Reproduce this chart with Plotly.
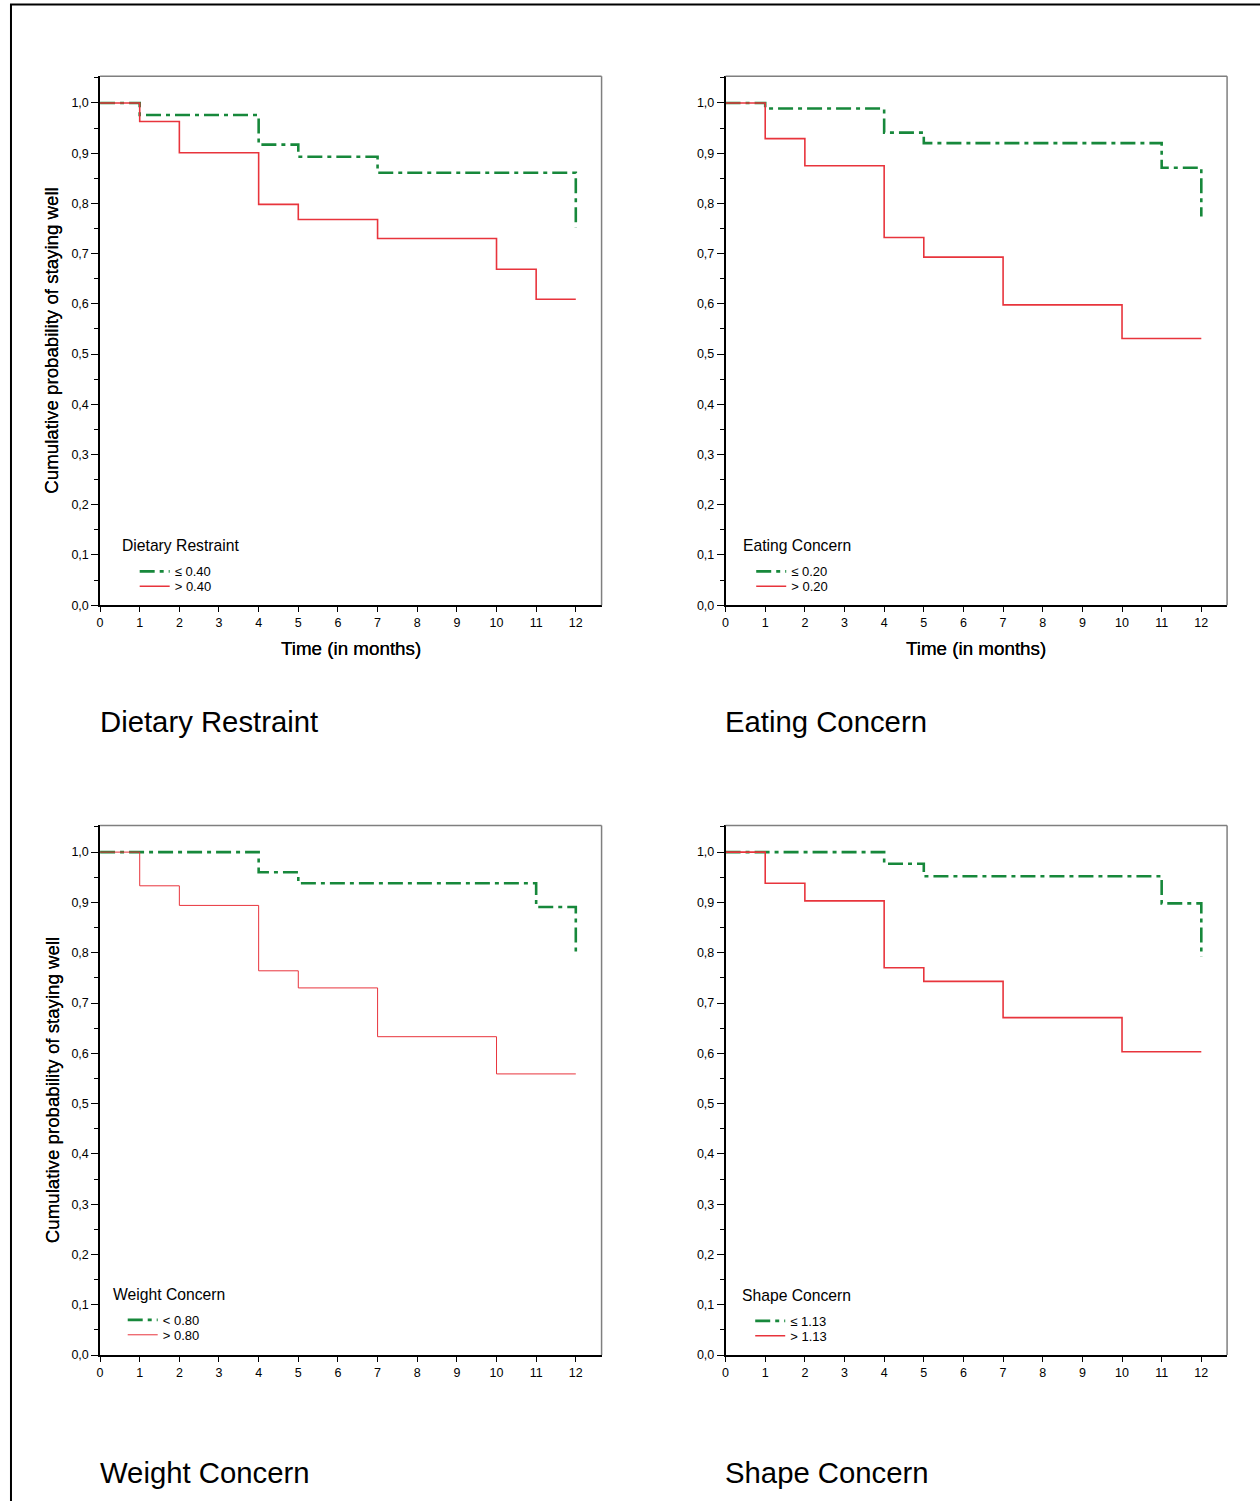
import plotly.graph_objects as go

# ---------------- data ----------------
dr_low_t = [0, 1, 4, 5, 7, 12]
dr_low_s = [1.0, 0.976, 0.917, 0.893, 0.861, 0.752]
dr_high_t = [0, 1, 2, 4, 5, 7, 10, 11, 12]
dr_high_s = [1.0, 0.963, 0.901, 0.798, 0.768, 0.730, 0.669, 0.609, 0.609]

ec_low_t = [0, 1, 4, 5, 11, 12]
ec_low_s = [1.0, 0.989, 0.941, 0.920, 0.871, 0.774]
ec_high_t = [0, 1, 2, 4, 5, 7, 10, 12]
ec_high_s = [1.0, 0.929, 0.875, 0.732, 0.693, 0.598, 0.531, 0.531]

wc_low_t = [0, 4, 5, 11, 12]
wc_low_s = [1.0, 0.960, 0.938, 0.891, 0.795]
wc_high_t = [0, 1, 2, 4, 5, 7, 10, 12]
wc_high_s = [1.0, 0.933, 0.894, 0.764, 0.730, 0.633, 0.559, 0.559]

sc_low_t = [0, 4, 5, 11, 12]
sc_low_s = [1.0, 0.977, 0.952, 0.898, 0.792]
sc_high_t = [0, 1, 2, 4, 5, 7, 10, 12]
sc_high_s = [1.0, 0.938, 0.903, 0.770, 0.743, 0.671, 0.603, 0.603]

panel_titles = ["Dietary Restraint", "Eating Concern", "Weight Concern", "Shape Concern"]
low_labels = ["\u2264 0.40", "\u2264 0.20", "< 0.80", "\u2264 1.13"]
high_labels = ["> 0.40", "> 0.20", "> 0.80", "> 1.13"]
x_ticks = list(range(0, 13))
y_ticks = [round(0.1 * i, 1) for i in range(11)]

W, H = 1260, 1508
GREEN = "#17883b"
RED = "#e8343c"
FONT = "Liberation Sans, Arial, sans-serif"


def px(x):
    return x / W


def py(y):
    return 1 - y / H


series = [
    (dr_low_t, dr_low_s, dr_high_t, dr_high_s),
    (ec_low_t, ec_low_s, ec_high_t, ec_high_s),
    (wc_low_t, wc_low_s, wc_high_t, wc_high_s),
    (sc_low_t, sc_low_s, sc_high_t, sc_high_s),
]

# panel frames in pixels: (left, right, top, bottom)
frames = [
    (97.3, 600.0, 76.7, 608.0),
    (724.3, 1227.0, 76.7, 608.0),
    (97.3, 600.0, 829.3, 1361.4),
    (724.3, 1227.0, 829.3, 1361.4),
]
# legend title position (left x, center y)
leg_title_pos = [(121, 548), (744, 548), (112, 1301), (743, 1302)]
# legend entry text left x, and centre y of the two entries
leg_text_x = [175, 793, 163, 792]
leg_item_y = [(571, 586), (571, 586), (1323, 1338), (1324, 1339)]
title_pos = [(99, 725), (726, 725), (99, 1479), (726, 1479)]
red_widths = [1.6, 1.6, 1.0, 1.6]

fig = go.Figure()
annotations = []
shapes = []

for i in range(4):
    lt, ls, ht, hs = series[i]
    xa = "x" if i == 0 else f"x{i+1}"
    ya = "y" if i == 0 else f"y{i+1}"
    lg_g = "legend" if i == 0 else f"legend{2*i+1}"
    lg_r = f"legend{2*i+2}"
    fig.add_trace(go.Scatter(
        x=lt, y=ls, mode="lines", line=dict(shape="hv", color=GREEN, width=2.6,
                                            dash="15px,5px,4px,5px"),
        name=low_labels[i], xaxis=xa, yaxis=ya, legend=lg_g, showlegend=True,
    ))
    fig.add_trace(go.Scatter(
        x=ht, y=hs, mode="lines", line=dict(shape="hv", color=RED, width=red_widths[i]),
        name=high_labels[i], xaxis=xa, yaxis=ya, legend=lg_r, showlegend=True,
    ))

    l, r, t, b = frames[i]
    axis_common = dict(showgrid=False, zeroline=False, showline=True, linecolor="black",
                       linewidth=1.5, ticks="outside", tickcolor="black",
                       tickfont=dict(family=FONT, size=12.5, color="black"))
    xk = "xaxis" if i == 0 else f"xaxis{i+1}"
    yk = "yaxis" if i == 0 else f"yaxis{i+1}"
    fig.update_layout(**{
        xk: dict(domain=[px(l), px(r)], range=[0, 12.65], tickvals=x_ticks, ticklen=5,
                 anchor=ya, fixedrange=True, **axis_common),
        yk: dict(domain=[py(b), py(t)], range=[0, 1.053], tickvals=y_ticks, tickformat=".1f",
                 ticklen=7, anchor=xa, fixedrange=True,
                 minor=dict(dtick=0.05, tick0=0, ticklen=4, ticks="outside", tickcolor="black"),
                 **axis_common),
    })

    # grey frame top & right
    shapes.append(dict(type="line", xref=f"{xa} domain", yref=f"{ya} domain",
                       x0=0, x1=1, y0=1, y1=1, line=dict(color="#7f7f7f", width=1.5)))
    shapes.append(dict(type="line", xref=f"{xa} domain", yref=f"{ya} domain",
                       x0=1, x1=1, y0=0, y1=1, line=dict(color="#7f7f7f", width=1.5)))

    # axis titles
    annotations.append(dict(text="Time (in months)", xref=f"{xa} domain", yref=f"{ya} domain",
                            x=0.5, y=-(652 - b) / (b - t), xanchor="center", yanchor="middle",
                            showarrow=False, font=dict(family=FONT, size=18.8, color="black")))
    annotations.append(dict(text="Cumulative probability of staying well", xref=f"{xa} domain",
                            yref=f"{ya} domain", x=-(l - 49) / (r - l), y=0.5, textangle=-90,
                            xanchor="center", yanchor="middle", showarrow=False,
                            font=dict(family=FONT, size=18.7, color="black")))
    # legend title
    annotations.append(dict(text=panel_titles[i], xref="paper", yref="paper",
                            x=px(leg_title_pos[i][0] - 4), y=py(leg_title_pos[i][1]),
                            xanchor="left", yanchor="middle", showarrow=False,
                            font=dict(family=FONT, size=15.7, color="black")))
    # panel title
    annotations.append(dict(text=panel_titles[i], xref="paper", yref="paper",
                            x=px(title_pos[i][0] - 4), y=py(title_pos[i][1]),
                            xanchor="left", yanchor="middle", showarrow=False,
                            font=dict(family=FONT, size=29.3, color="black")))

    for lg, yc in ((lg_g, leg_item_y[i][0]), (lg_r, leg_item_y[i][1])):
        fig.update_layout(**{lg: dict(x=px(leg_text_x[i] - 43), y=py(yc - 12),
                                      xanchor="left", yanchor="top", bgcolor="rgba(0,0,0,0)",
                                      borderwidth=0, itemwidth=30, tracegroupgap=0,
                                      font=dict(family=FONT, size=13, color="black"))})

# outer page border (top and left)
shapes.append(dict(type="line", xref="paper", yref="paper", x0=px(7), x1=1.0,
                   y0=py(4.5), y1=py(4.5), line=dict(color="black", width=2)))
shapes.append(dict(type="line", xref="paper", yref="paper", x0=px(8), x1=px(8),
                   y0=py(4.5), y1=0, line=dict(color="black", width=2)))

fig.update_layout(
    width=W, height=H, autosize=False,
    margin=dict(l=0, r=0, t=0, b=0, pad=0),
    paper_bgcolor="white", plot_bgcolor="white",
    separators=",.",
    font=dict(family=FONT, color="black"),
    annotations=annotations, shapes=shapes,
)

fig.write_html(
    "out.html",
    config={"displayModeBar": False},
    post_script=(
        "document.documentElement.style.margin='0';"
        "document.documentElement.style.overflow='hidden';"
        "document.body.style.margin='0';"
        "document.body.style.overflow='hidden';"
    ),
)
